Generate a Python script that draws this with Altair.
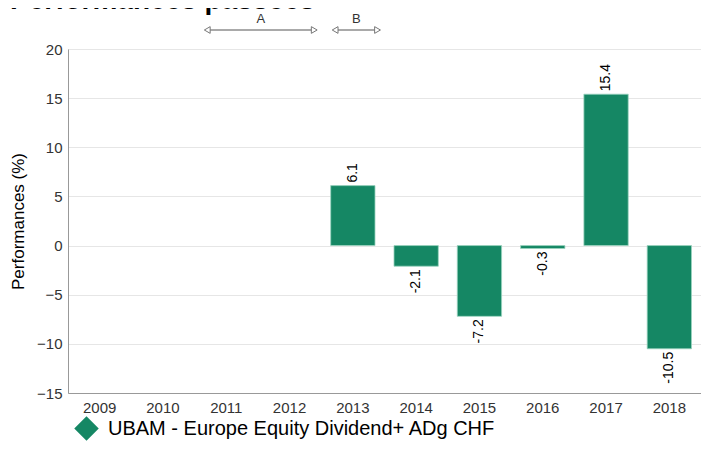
import altair as alt
import pandas as pd

# ---- data ----
years = ["2009", "2010", "2011", "2012", "2013", "2014", "2015", "2016", "2017", "2018"]
perf = [None, None, None, None, 6.1, -2.1, -7.2, -0.3, 15.4, -10.5]
series_name = "UBAM - Europe Equity Dividend+ ADg CHF"
y_ticks = [-15, -10, -5, 0, 5, 10, 15, 20]
arrow_labels = ["A", "B"]
arrow_start = [2010.70, 2012.72]
arrow_end = [2012.39, 2013.39]
title_text = "Performances passées"

FONT = "Liberation Sans"
GREEN = "#158764"

df = pd.DataFrame({"year": years, "perf": perf, "series": series_name})
lab = df.dropna().copy()
lab["label"] = lab["perf"].map(lambda v: f"{v:.1f}")

ann = pd.DataFrame({"label": arrow_labels, "start": arrow_start, "end": arrow_end})
ann["mid"] = (ann["start"] + ann["end"]) / 2

x_enc = alt.X(
    "year:N",
    scale=alt.Scale(domain=years, paddingInner=0.3, paddingOuter=0.15),
    axis=alt.Axis(title=None, labelAngle=0, ticks=False, domainColor="#999999",
                  labelFontSize=15, labelColor="#333333", labelPadding=7,
                  labelFont=FONT, grid=False),
)
y_enc = alt.Y(
    "perf:Q",
    scale=alt.Scale(domain=[-15, 20], nice=False, zero=False),
    axis=alt.Axis(values=y_ticks, title="Performances (%)", titleFontSize=17,
                  titleFontWeight="normal", titleColor="#000000", titleFont=FONT,
                  titlePadding=9,
                  labelFontSize=15, labelColor="#333333", labelFont=FONT,
                  gridColor="#e6e6e6", domainColor="#999999", ticks=False,
                  labelPadding=6),
)

bars = alt.Chart(df).mark_bar(stroke="#9ad3bf", strokeWidth=0.8).encode(
    x=x_enc,
    y=y_enc,
    color=alt.Color(
        "series:N",
        scale=alt.Scale(range=[GREEN]),
        legend=alt.Legend(orient="none", legendX=6, legendY=367, title=None,
                          symbolType="diamond", symbolSize=600, symbolStrokeWidth=0,
                          labelFontSize=20, labelColor="#000000", labelFont=FONT,
                          labelOffset=9, labelLimit=600),
    ),
)

pos_labels = alt.Chart(lab).transform_filter("datum.perf >= 0").mark_text(
    angle=270, align="left", baseline="middle", dx=3, fontSize=14, font=FONT, color="#000000"
).encode(x=alt.X("year:N"), y=alt.Y("perf:Q"), text="label:N")

neg_labels = alt.Chart(lab).transform_filter("datum.perf < 0").mark_text(
    angle=270, align="right", baseline="middle", dx=-3, fontSize=14, font=FONT, color="#000000"
).encode(x=alt.X("year:N"), y=alt.Y("perf:Q"), text="label:N")

base = alt.layer(bars, pos_labels, neg_labels)

ann_scale = alt.Scale(domain=[2008.5, 2018.5], nice=False, zero=False)
ax = alt.X("start:Q", scale=ann_scale, axis=None)

arrow_line = alt.Chart(ann).mark_rule(color="#555555", strokeWidth=1).encode(
    x=ax, x2="end:Q", y=alt.value(-19)
)
arrow_l = alt.Chart(ann).mark_point(shape="triangle-left", filled=True, fill="white",
                                    stroke="#777777", strokeWidth=1, size=45, opacity=1).encode(
    x=ax, y=alt.value(-19)
)
arrow_r = alt.Chart(ann).mark_point(shape="triangle-right", filled=True, fill="white",
                                    stroke="#777777", strokeWidth=1, size=45, opacity=1).encode(
    x=alt.X("end:Q", scale=ann_scale, axis=None), y=alt.value(-19)
)
arrow_txt = alt.Chart(ann).mark_text(fontSize=13, font=FONT, color="#333333", baseline="bottom").encode(
    x=alt.X("mid:Q", scale=ann_scale, axis=None), y=alt.value(-23), text="label:N"
)
annot = alt.layer(arrow_line, arrow_l, arrow_r, arrow_txt)

title_df = pd.DataFrame({"t": [title_text]})
title_mark = alt.Chart(title_df).mark_text(
    fontSize=28, fontWeight="bold", font=FONT, color="#000000", align="left", baseline="alphabetic"
).encode(x=alt.value(-58), y=alt.value(-40), text="t:N")

chart = alt.layer(base, annot, title_mark).resolve_scale(x="independent").properties(
    width=633, height=344,
    autosize=alt.AutoSizeParams(type="none"),
    padding={"left": 60, "top": 41, "right": 0, "bottom": 50},
).configure_view(stroke=None).configure(background="white")

chart.save("out.html", embed_options={"renderer": "svg", "actions": False})
